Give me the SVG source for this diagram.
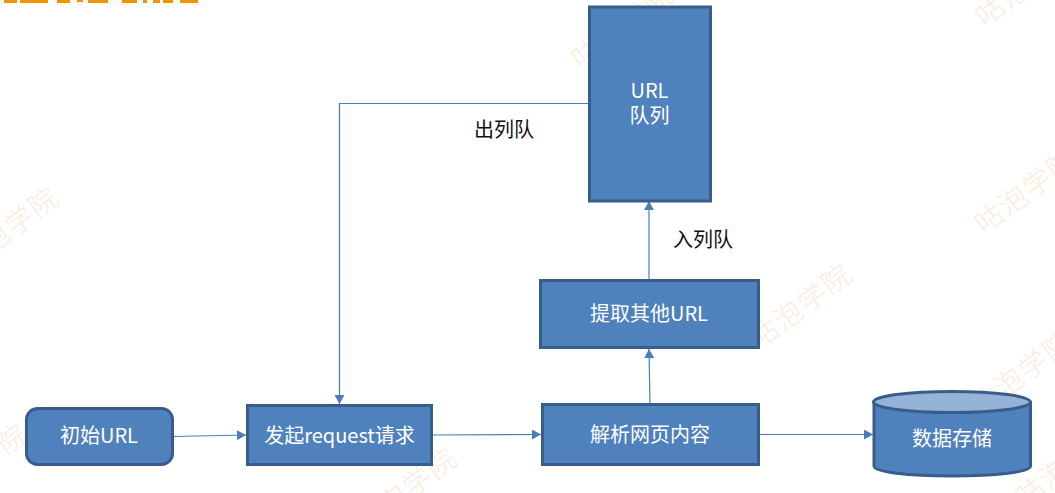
<svg xmlns="http://www.w3.org/2000/svg" width="1055" height="493" viewBox="0 0 1055 493">
<style>
.wm{font-family:"Noto Sans CJK SC",sans-serif;font-size:28px;letter-spacing:2px;fill:#fbecdb;font-weight:300}
.box{fill:#4f81bd;stroke:#385d8a;stroke-width:3}
.t{font-family:"Noto Sans CJK SC",sans-serif;font-size:20px;fill:#fff;text-anchor:middle}
.k{font-family:"Noto Sans CJK SC",sans-serif;font-size:20px;fill:#111;text-anchor:middle}
.c{fill:none;stroke:#4a7ebb;stroke-width:1.2}
</style>
<defs>
<marker id="arrow" markerUnits="userSpaceOnUse" markerWidth="10" markerHeight="10" refX="9" refY="5" orient="auto"><path d="M0 0L9 5L0 10Z" fill="#4a7ebb"/></marker>
</defs>
<rect width="1055" height="493" fill="#fff"/>
<g id="watermarks">
<text class="wm" transform="translate(-34,273) rotate(-37)">咕泡学院</text>
<text class="wm" transform="translate(985,28) rotate(-37)">咕泡学院</text>
<text class="wm" transform="translate(984,235) rotate(-37)">咕泡学院</text>
<text class="wm" transform="translate(759,350) rotate(-37)">咕泡学院</text>
<text class="wm" transform="translate(980,417) rotate(-37)">咕泡学院</text>
<text class="wm" transform="translate(364,534) rotate(-37)">咕泡学院</text>
<text class="wm" transform="translate(581,70) rotate(-37)">咕泡学院</text>
<text class="wm" transform="translate(-65,510) rotate(-37)">咕泡学院</text>
<text class="wm" transform="translate(1025,508) rotate(-37)">咕泡学院</text>
</g>
<path id="title-fragment" fill="#f29400" d="M4 0H17V3H4ZM20 0H48V3H20ZM57 0H70V3H57ZM77 0H83V2H77ZM88 0H108V3H88ZM122 0H137V3H122ZM143 0H147V3H143ZM153 0H160V3H153ZM163 0H173V3H163ZM180 0H198V3H180Z"/>
<g id="connectors">
<path class="c" marker-end="url(#arrow)" d="M174 436.500L246 435"/>
<path class="c" marker-end="url(#arrow)" d="M433 435L541 434.500"/>
<path class="c" marker-end="url(#arrow)" d="M760 434.500H873"/>
<path class="c" marker-end="url(#arrow)" d="M650 403L649 349"/>
<path class="c" marker-end="url(#arrow)" d="M649 279V201"/>
<path class="c" marker-end="url(#arrow)" d="M588 103.500H339.500V404"/>
</g>
<g id="node-queue"><rect class="box" x="589.500" y="7" width="121" height="194"/><text class="t" x="649.500" y="98">URL</text><text class="t" x="649.500" y="123">队列</text></g>
<g id="node-start"><rect class="box" x="26.500" y="408.500" width="146" height="56" rx="11"/><text class="t" x="99" y="443">初始URL</text></g>
<g id="node-request"><rect class="box" x="247.500" y="405.500" width="184" height="59"/><text class="t" x="339.500" y="443">发起request请求</text></g>
<g id="node-parse"><rect class="box" x="542.500" y="404.500" width="216" height="60"/><text class="t" x="650" y="441.500">解析网页内容</text></g>
<g id="node-extract"><rect class="box" x="540.500" y="280.500" width="218" height="67"/><text class="t" x="649" y="321">提取其他URL</text></g>
<g id="node-storage"><path class="box" d="M874 402V466C874 472 908 476 952 476S1030.500 472 1030.500 466V402"/><ellipse cx="952" cy="402" rx="78.500" ry="10.500" fill="#95b3d7" stroke="#385d8a" stroke-width="3"/><text class="t" x="952" y="446">数据存储</text></g>
<g id="label-dequeue"><text class="k" x="504" y="137">出列队</text></g>
<g id="label-enqueue"><text class="k" x="703" y="247">入列队</text></g>
</svg>
